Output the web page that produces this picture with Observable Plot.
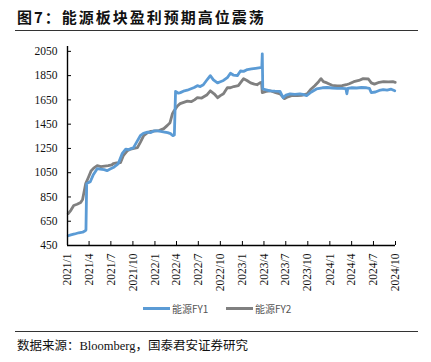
<!DOCTYPE html>
<html>
<head>
<meta charset="utf-8">
<script src="https://cdn.jsdelivr.net/npm/d3@7"></script>
<script src="https://cdn.jsdelivr.net/npm/@observablehq/plot@0.6"></script>
<style>
  html, body { margin: 0; padding: 0; background: #fff; }
  #wrap { position: relative; width: 431px; height: 362px; overflow: hidden; }
  #title { position: absolute; left: 17px; top: 6px; font: bold 15px "Noto Sans CJK SC", sans-serif; letter-spacing: 2px; color: #111; white-space: nowrap; }
  #rule1 { position: absolute; left: 15px; top: 30px; width: 403px; border-top: 1.3px solid #333; }
  #chart { position: absolute; left: 0; top: 40px; }
  #legend { position: absolute; top: 301px; left: 0; width: 431px; height: 14px; font: 10px "Noto Sans CJK SC", sans-serif; color: #555; }
  .lg { position: absolute; top: 0; display: flex; align-items: center; white-space: nowrap; }
  .sw { display: inline-block; width: 27px; height: 3px; margin-right: 2px; }
  #rule2 { position: absolute; left: 15px; top: 331px; width: 403px; border-top: 1.3px solid #333; }
  #source { position: absolute; left: 17px; top: 335px; font: 12.5px "Liberation Serif", "Noto Sans CJK SC", serif; color: #111; white-space: nowrap; }
</style>
</head>
<body>
<div id="wrap">
  <div id="title">图7：能源板块盈利预期高位震荡</div>
  <div id="rule1"></div>
  <div id="chart"></div>
  <div id="legend">
    <div class="lg" style="left:143px"><span class="sw" style="background:#5B9BD5"></span><span>能源FY1</span></div>
    <div class="lg" style="left:226px"><span class="sw" style="background:#808080"></span><span>能源FY2</span></div>
  </div>
  <div id="rule2"></div>
  <div id="source">数据来源：Bloomberg，国泰君安证券研究</div>
</div>
<script>
// ---- data ----
const seriesNames = ["能源FY1", "能源FY2"];
const seriesColors = ["#5B9BD5", "#808080"];

const fy1Dates = ["2021-01-04","2021-01-15","2021-01-31","2021-02-17","2021-03-05","2021-03-16","2021-03-19","2021-03-22","2021-03-29","2021-04-06","2021-04-18","2021-05-05","2021-05-17","2021-06-03","2021-06-15","2021-06-28","2021-07-11","2021-07-23","2021-08-01","2021-08-17","2021-09-01","2021-09-13","2021-09-26","2021-10-03","2021-10-16","2021-11-01","2021-11-14","2021-12-01","2021-12-13","2021-12-30","2022-01-12","2022-01-25","2022-02-10","2022-02-23","2022-03-07","2022-03-17","2022-03-23","2022-03-28","2022-04-09","2022-04-17","2022-05-04","2022-05-16","2022-05-29","2022-06-14","2022-06-27","2022-07-09","2022-07-22","2022-08-08","2022-08-20","2022-09-02","2022-09-19","2022-10-01","2022-10-14","2022-10-30","2022-11-12","2022-11-24","2022-12-11","2022-12-24","2023-01-06","2023-01-22","2023-02-08","2023-02-25","2023-03-17","2023-03-23","2023-03-25","2023-03-27","2023-04-06","2023-04-27","2023-05-17","2023-06-07","2023-06-20","2023-07-02","2023-07-19","2023-08-08","2023-08-29","2023-09-10","2023-09-26","2023-10-16","2023-11-06","2023-12-01","2023-12-21","2024-01-11","2024-02-01","2024-02-21","2024-03-08","2024-03-12","2024-03-16","2024-04-02","2024-04-22","2024-05-12","2024-06-02","2024-06-14","2024-06-22","2024-07-09","2024-07-25","2024-08-11","2024-08-27","2024-09-13","2024-09-28"];
const fy1Values = [530,538,545,555,560,572,578,960,968,975,1030,1083,1080,1075,1067,1080,1092,1110,1125,1207,1245,1240,1250,1255,1300,1355,1375,1385,1380,1395,1395,1390,1385,1380,1372,1355,1360,1720,1705,1710,1725,1730,1740,1752,1767,1760,1775,1820,1850,1815,1790,1800,1810,1833,1870,1855,1850,1888,1885,1900,1905,1910,1915,1918,2030,1740,1735,1725,1722,1720,1668,1690,1700,1695,1700,1695,1685,1715,1740,1750,1752,1748,1745,1745,1742,1700,1745,1750,1748,1752,1750,1745,1710,1715,1728,1735,1730,1738,1725];

const fy2Dates = ["2021-01-04","2021-01-15","2021-01-27","2021-02-10","2021-02-25","2021-03-05","2021-03-10","2021-03-18","2021-03-29","2021-04-10","2021-04-22","2021-05-05","2021-05-20","2021-06-05","2021-06-20","2021-07-05","2021-07-11","2021-07-25","2021-08-10","2021-08-22","2021-09-08","2021-09-22","2021-10-05","2021-10-20","2021-11-01","2021-11-15","2021-12-01","2021-12-15","2022-01-05","2022-01-18","2022-02-07","2022-02-22","2022-03-05","2022-03-15","2022-03-22","2022-04-05","2022-04-16","2022-05-01","2022-05-16","2022-06-01","2022-06-15","2022-06-27","2022-07-15","2022-08-05","2022-08-20","2022-09-05","2022-09-20","2022-10-01","2022-10-14","2022-10-30","2022-11-12","2022-11-26","2022-12-15","2023-01-06","2023-01-20","2023-02-04","2023-02-20","2023-03-03","2023-03-15","2023-03-22","2023-03-25","2023-04-10","2023-04-27","2023-05-20","2023-06-07","2023-06-25","2023-07-10","2023-07-25","2023-08-18","2023-09-05","2023-09-28","2023-10-15","2023-10-30","2023-11-15","2023-11-25","2023-12-05","2023-12-20","2024-01-10","2024-02-01","2024-02-21","2024-03-10","2024-03-22","2024-04-10","2024-05-01","2024-05-19","2024-06-10","2024-06-22","2024-07-05","2024-07-25","2024-08-12","2024-09-01","2024-09-20","2024-09-30"];
const fy2Values = [713,740,780,790,805,830,880,960,1010,1067,1090,1108,1100,1105,1108,1115,1125,1130,1133,1190,1232,1245,1250,1257,1300,1355,1380,1390,1395,1397,1413,1440,1462,1536,1560,1600,1619,1630,1640,1635,1650,1668,1665,1690,1725,1700,1668,1685,1700,1750,1750,1760,1767,1825,1810,1790,1780,1775,1790,1795,1710,1720,1725,1710,1700,1660,1675,1685,1685,1688,1700,1740,1767,1800,1825,1800,1790,1770,1765,1767,1775,1783,1800,1810,1825,1822,1790,1780,1795,1800,1798,1800,1795];

const yTicks = [450, 650, 850, 1050, 1250, 1450, 1650, 1850, 2050];
const xTickDates = ["2021-01-01","2021-04-01","2021-07-01","2021-10-01","2022-01-01","2022-04-01","2022-07-01","2022-10-01","2023-01-01","2023-04-01","2023-07-01","2023-10-01","2024-01-01","2024-04-01","2024-07-01","2024-10-01"];
const xTickLabels = ["2021/1","2021/4","2021/7","2021/10","2022/1","2022/4","2022/7","2022/10","2023/1","2023/4","2023/7","2023/10","2024/1","2024/4","2024/7","2024/10"];

// ---- build ----
const parse = d3.utcParse("%Y-%m-%d");
const fy1 = fy1Dates.map((d, i) => ({date: parse(d), v: fy1Values[i]}));
const fy2 = fy2Dates.map((d, i) => ({date: parse(d), v: fy2Values[i]}));
const xTicks = xTickDates.map(parse);
const labelOf = new Map(xTicks.map((d, i) => [+d, xTickLabels[i]]));

const chart = Plot.plot({
  width: 431,
  height: 260,
  marginLeft: 67,
  marginRight: 36,
  marginTop: 6,
  marginBottom: 55,
  style: {fontFamily: "'Liberation Serif', serif", fontSize: "11.5px", color: "#111", background: "transparent"},
  x: {type: "utc", domain: [xTicks[0], xTicks[xTicks.length - 1]]},
  y: {domain: [450, 2090]},
  marks: [
    Plot.lineY(fy2, {x: "date", y: "v", stroke: seriesColors[1], strokeWidth: 2.8}),
    Plot.lineY(fy1, {x: "date", y: "v", stroke: seriesColors[0], strokeWidth: 2.8}),
    Plot.ruleX([xTicks[0]], {stroke: "#000", strokeWidth: 1.4}),
    Plot.ruleY([450], {stroke: "#000", strokeWidth: 1.4}),
    Plot.axisY({ticks: yTicks, tickSize: -4, tickPadding: 14, tickFormat: d => String(d), stroke: "#000", label: null, fill: "#111"}),
    Plot.axisX({ticks: xTicks, tickSize: -4, tickPadding: 12, tickRotate: -90, tickFormat: d => labelOf.get(+d), stroke: "#000", label: null, fill: "#111"})
  ]
});
document.getElementById("chart").appendChild(chart);
</script>
</body>
</html>
